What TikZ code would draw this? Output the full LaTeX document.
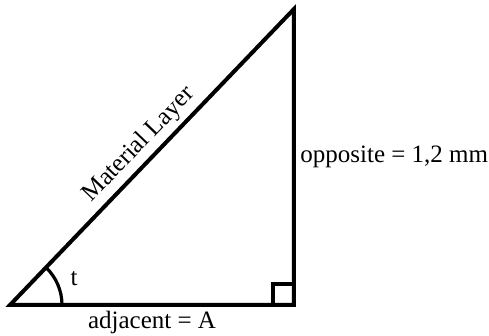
\documentclass[tikz,border=0pt]{standalone}
\usepackage{fontspec}
\setmainfont{Liberation Serif}
\usetikzlibrary{positioning}

\begin{document}
\begin{tikzpicture}[x=0.5pt, y=-0.5pt,
    side/.style={line width=2pt, line join=miter},
    lbl/.style={font=\fontsize{12.5}{15}\selectfont, inner sep=1pt}]
      \useasboundingbox (0,0) rectangle (489,336);
      \coordinate (A) at (10,305);
      \coordinate (B) at (294,305);
      \coordinate (C) at (294,9);
      % triangle
      \draw[side] (A) -- (B) -- (C) -- cycle;
      \draw[line width=1.6pt] (B) rectangle ++(-21,-21);
      \draw[line width=1.6pt] (A) ++(52,0) arc[start angle=0, end angle=-46, radius=52];
      % labels
      \path (A) -- (B) node[lbl, midway, below=2pt] (adj) {adjacent = A};
      \path (B) -- (C) node[lbl, midway, right=2pt] (opp) {opposite = 1,2 mm};
      \path (A) -- (C) node[lbl, midway, sloped, above=2pt] (hyp) {Material Layer};
      \node[lbl] (t) at (74,279) {t};
    \end{tikzpicture}
\end{document}
